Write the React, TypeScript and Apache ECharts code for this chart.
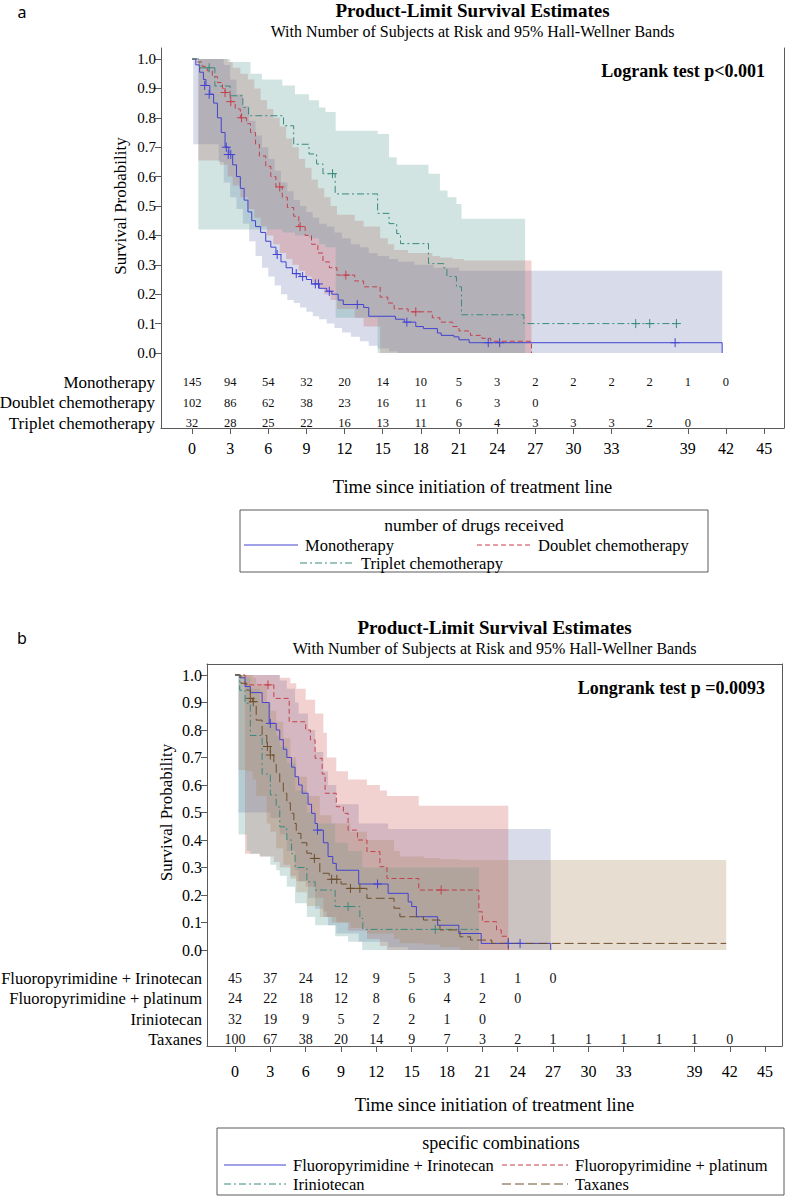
import React, { useEffect, useRef } from "react";
import * as echarts from "echarts";

// ---------------- Panel a data ----------------
const riskTimesA = [0, 3, 6, 9, 12, 15, 18, 21, 24, 27, 30, 33, 36, 39, 42];
const xTickValues = [0, 3, 6, 9, 12, 15, 18, 21, 24, 27, 30, 33, 39, 42, 45];
const yTickValues = [0, 0.1, 0.2, 0.3, 0.4, 0.5, 0.6, 0.7, 0.8, 0.9, 1.0];

const groupsA = ["Monotherapy", "Doublet chemotherapy", "Triplet chemotherapy"];
const monoRisk = [145, 94, 54, 32, 20, 14, 10, 5, 3, 2, 2, 2, 2, 1, 0];
const doubletRisk = [102, 86, 62, 38, 23, 16, 11, 6, 3, 0];
const tripletRisk = [32, 28, 25, 22, 16, 13, 11, 6, 4, 3, 3, 3, 2, 0];

const monoKM = [[0, 1], [0.3, 0.98], [0.6, 0.955], [0.9, 0.93], [1.1, 0.91], [1.4, 0.88], [1.7, 0.85], [2.0, 0.8], [2.3, 0.75], [2.6, 0.7], [2.9, 0.675], [3.2, 0.64], [3.5, 0.6], [3.8, 0.56], [4.1, 0.52], [4.4, 0.48], [4.7, 0.45], [5.0, 0.43], [5.4, 0.41], [5.8, 0.38], [6.2, 0.36], [6.6, 0.335], [7.0, 0.31], [7.4, 0.29], [7.9, 0.27], [8.5, 0.26], [9.0, 0.25], [9.4, 0.235], [10.0, 0.22], [10.6, 0.21], [11.0, 0.2], [11.5, 0.18], [11.9, 0.165], [13.5, 0.155], [13.9, 0.125], [16.0, 0.115], [16.7, 0.105], [17.6, 0.09], [18.2, 0.083], [19.3, 0.068], [19.6, 0.06], [20.6, 0.055], [21.0, 0.045], [21.8, 0.035], [41.7, 0.035], [41.7, 0]];
const monoCensor = [[1.0, 0.91], [1.35, 0.88], [2.7, 0.7], [2.85, 0.675], [3.05, 0.675], [6.7, 0.335], [8.2, 0.27], [8.7, 0.26], [9.7, 0.235], [9.95, 0.235], [10.8, 0.21], [13.0, 0.165], [16.9, 0.105], [23.3, 0.035], [24.2, 0.035], [38.0, 0.035]];
const monoBand = [[0.1, 0.71, 1.0], [2.1, 0.65, 1.0], [2.5, 0.58, 0.98], [3.0, 0.53, 0.93], [3.5, 0.49, 0.88], [4.0, 0.44, 0.84], [4.5, 0.38, 0.79], [5.0, 0.33, 0.74], [5.5, 0.29, 0.7], [6.0, 0.26, 0.66], [6.5, 0.23, 0.62], [7.0, 0.2, 0.58], [7.5, 0.18, 0.55], [8.0, 0.17, 0.52], [8.5, 0.155, 0.5], [9.0, 0.14, 0.48], [9.5, 0.125, 0.46], [10.0, 0.115, 0.44], [10.6, 0.1, 0.43], [11.2, 0.085, 0.41], [11.8, 0.07, 0.39], [12.5, 0.055, 0.37], [13.2, 0.04, 0.36], [13.9, 0.025, 0.34], [14.6, 0.015, 0.33], [15.5, 0.005, 0.32], [16.2, 0, 0.31], [17.5, 0, 0.3], [19.0, 0, 0.29], [21.0, 0, 0.28]];
const monoBandEnd = 41.7;

const doubletKM = [[0, 1], [0.4, 0.99], [0.8, 0.975], [1.2, 0.96], [1.6, 0.94], [2.0, 0.92], [2.4, 0.9], [2.6, 0.886], [3.0, 0.855], [3.4, 0.83], [3.8, 0.8], [4.3, 0.78], [4.6, 0.75], [5.0, 0.71], [5.3, 0.67], [5.8, 0.635], [6.2, 0.6], [6.6, 0.565], [7.1, 0.53], [7.5, 0.495], [8.0, 0.465], [8.4, 0.43], [8.9, 0.4], [9.4, 0.37], [9.9, 0.34], [10.3, 0.31], [10.8, 0.29], [11.4, 0.265], [12.8, 0.245], [13.5, 0.225], [14.8, 0.19], [15.4, 0.17], [15.9, 0.15], [17.0, 0.14], [18.9, 0.12], [19.5, 0.105], [20.5, 0.09], [21.0, 0.075], [21.9, 0.06], [22.8, 0.05], [23.5, 0.04], [26.7, 0]];
const doubletCensor = [[2.6, 0.886], [3.05, 0.855], [3.9, 0.8], [6.9, 0.565], [8.5, 0.43], [12.1, 0.265], [17.6, 0.14]];
const doubletBand = [[0.5, 0.655, 1.0], [2.2, 0.64, 1.0], [2.8, 0.6, 0.99], [3.2, 0.57, 0.97], [3.8, 0.53, 0.95], [4.4, 0.49, 0.93], [4.9, 0.46, 0.9], [5.4, 0.43, 0.86], [5.9, 0.4, 0.83], [6.4, 0.37, 0.8], [6.9, 0.34, 0.77], [7.4, 0.32, 0.73], [7.9, 0.3, 0.7], [8.4, 0.28, 0.66], [8.9, 0.26, 0.63], [9.4, 0.24, 0.59], [9.9, 0.22, 0.56], [10.4, 0.2, 0.53], [10.9, 0.18, 0.5], [11.4, 0.15, 0.47], [12.8, 0.12, 0.45], [13.5, 0.09, 0.43], [14.8, 0, 0.39], [15.4, 0, 0.37], [15.9, 0, 0.35], [17.0, 0, 0.34], [18.9, 0, 0.33], [19.5, 0, 0.325], [20.5, 0, 0.32], [21.4, 0, 0.315]];
const doubletBandEnd = 26.7;

const tripletKM = [[0, 1], [0.6, 0.97], [1.8, 0.908], [3.0, 0.875], [4.0, 0.835], [4.45, 0.807], [7.2, 0.773], [8.0, 0.71], [9.2, 0.677], [9.8, 0.643], [10.3, 0.61], [11.26, 0.541], [14.6, 0.475], [15.5, 0.44], [16.1, 0.406], [16.4, 0.372], [18.6, 0.304], [19.8, 0.29], [20.05, 0.26], [20.8, 0.225], [21.2, 0.13], [26.1, 0.1], [38.1, 0.1]];
const tripletCensor = [[1.35, 0.97], [11.05, 0.61], [34.9, 0.1], [36.0, 0.1], [38.1, 0.1]];
const tripletBand = [[0.5, 0.42, 1.0], [3.0, 0.42, 0.99], [4.6, 0.42, 0.95], [5.5, 0.42, 0.93], [7.1, 0.41, 0.91], [8.1, 0.4, 0.88], [9.2, 0.39, 0.86], [10.0, 0.37, 0.835], [10.5, 0.36, 0.82], [11.3, 0.12, 0.756], [14.6, 0, 0.745], [15.5, 0, 0.666], [16.1, 0, 0.64], [18.6, 0, 0.61], [19.5, 0, 0.553], [20.1, 0, 0.53], [20.8, 0, 0.507], [21.2, 0, 0.457]];
const tripletBandEnd = 26.2;

// ---------------- Panel b data ----------------
const riskTimesB = [0, 3, 6, 9, 12, 15, 18, 21, 24, 27, 30, 33, 36, 39, 42];
const groupsB = ["Fluoropyrimidine + Irinotecan", "Fluoropyrimidine + platinum", "Iriniotecan", "Taxanes"];
const fiRisk = [45, 37, 24, 12, 9, 5, 3, 1, 1, 0];
const fpRisk = [24, 22, 18, 12, 8, 6, 4, 2, 0];
const irRisk = [32, 19, 9, 5, 2, 2, 1, 0];
const taxRisk = [100, 67, 38, 20, 14, 9, 7, 3, 2, 1, 1, 1, 1, 1, 0];

const fiKM = [[0, 1], [0.4, 0.99], [0.85, 0.958], [1.3, 0.936], [2.3, 0.9], [2.9, 0.824], [3.5, 0.8], [3.8, 0.765], [4.1, 0.73], [4.4, 0.7], [4.8, 0.665], [5.1, 0.63], [5.4, 0.6], [5.7, 0.57], [6.2, 0.53], [6.5, 0.497], [6.8, 0.46], [7.0, 0.436], [7.5, 0.39], [7.9, 0.34], [8.3, 0.315], [8.6, 0.29], [10.5, 0.24], [13.0, 0.206], [14.7, 0.175], [15.0, 0.158], [15.4, 0.121], [17.2, 0.09], [19.0, 0.06], [20.9, 0.024], [26.8, 0]];
const fiCensor = [[3.0, 0.824], [7.0, 0.436], [12.1, 0.24], [23.2, 0.024], [24.2, 0.024]];
const fiBand = [[0.3, 0.5, 1.0], [2.3, 0.5, 1.0], [3.0, 0.48, 1.0], [3.8, 0.42, 0.98], [4.4, 0.36, 0.95], [5.1, 0.29, 0.9], [5.4, 0.25, 0.86], [6.2, 0.19, 0.8], [6.8, 0.15, 0.72], [7.5, 0.12, 0.65], [7.9, 0.09, 0.6], [8.6, 0.06, 0.53], [10.5, 0.03, 0.46], [13.0, 0.01, 0.44], [14.7, 0, 0.44]];
const fiBandEnd = 26.8;

const fpKM = [[0, 1], [0.85, 0.964], [3.3, 0.915], [4.6, 0.83], [6.0, 0.8], [6.4, 0.764], [6.8, 0.697], [7.4, 0.64], [7.65, 0.57], [8.6, 0.521], [9.2, 0.497], [9.6, 0.436], [10.4, 0.4], [11.2, 0.358], [12.3, 0.303], [12.9, 0.26], [15.6, 0.218], [20.7, 0.139], [21.0, 0.103], [22.2, 0.073], [22.6, 0.05], [23.2, 0]];
const fpCensor = [[2.8, 0.964], [17.5, 0.218]];
const fpBand = [[0.85, 0.35, 1.0], [2.1, 0.34, 1.0], [3.3, 0.32, 1.0], [3.8, 0.3, 0.99], [4.7, 0.27, 0.97], [5.2, 0.25, 0.95], [6.0, 0.23, 0.91], [6.8, 0.19, 0.86], [7.5, 0.14, 0.79], [7.8, 0.12, 0.7], [8.6, 0.1, 0.65], [9.6, 0.07, 0.62], [11.2, 0.04, 0.6], [12.3, 0.015, 0.58], [12.9, 0, 0.56], [15.6, 0, 0.525]];
const fpBandEnd = 23.2;

const irKM = [[0, 1], [0.4, 0.945], [0.85, 0.897], [1.3, 0.78], [2.3, 0.64], [3.0, 0.564], [3.5, 0.52], [3.8, 0.448], [4.4, 0.4], [4.8, 0.35], [5.1, 0.3], [6.1, 0.248], [6.8, 0.218], [8.5, 0.158], [10.6, 0.115], [10.85, 0.075], [20.7, 0.075]];
const irCensor = [[9.6, 0.158], [17.0, 0.075]];
const irBand = [[0.3, 0.42, 1.0], [1.0, 0.36, 0.99], [1.3, 0.35, 0.95], [2.1, 0.34, 0.9], [3.0, 0.31, 0.82], [3.5, 0.29, 0.78], [3.8, 0.27, 0.74], [4.4, 0.23, 0.68], [5.1, 0.17, 0.58], [6.1, 0.12, 0.5], [6.8, 0.09, 0.46], [8.5, 0.05, 0.39], [9.6, 0.03, 0.36], [10.8, 0, 0.3]];
const irBandEnd = 20.7;

const taxKM = [[0, 1], [0.5, 0.97], [1.0, 0.945], [1.3, 0.915], [1.5, 0.903], [1.8, 0.836], [2.3, 0.78], [2.7, 0.74], [3.0, 0.709], [3.3, 0.675], [3.5, 0.642], [3.8, 0.61], [4.1, 0.57], [4.4, 0.535], [4.7, 0.497], [5.0, 0.46], [5.2, 0.424], [5.6, 0.39], [6.1, 0.352], [6.5, 0.333], [7.2, 0.279], [8.0, 0.257], [9.0, 0.24], [9.5, 0.224], [11.2, 0.188], [13.5, 0.152], [14.0, 0.121], [16.0, 0.109], [17.4, 0.073], [19.1, 0.048], [20.0, 0.036], [21.8, 0.024], [41.7, 0.024]];
const taxCensor = [[1.3, 0.915], [1.55, 0.903], [2.75, 0.74], [3.0, 0.709], [6.74, 0.333], [8.2, 0.257], [8.64, 0.257], [9.8, 0.224], [10.6, 0.224]];
const taxBand = [[0.3, 0.655, 1.0], [1.0, 0.65, 1.0], [1.5, 0.62, 0.99], [1.8, 0.56, 0.96], [2.7, 0.46, 0.9], [3.0, 0.43, 0.87], [3.5, 0.37, 0.83], [4.1, 0.31, 0.77], [4.7, 0.26, 0.7], [5.2, 0.21, 0.63], [6.1, 0.16, 0.56], [7.2, 0.12, 0.49], [8.2, 0.1, 0.46], [9.8, 0.08, 0.43], [11.2, 0.06, 0.4], [13.5, 0.04, 0.36], [14.0, 0.025, 0.34], [16.0, 0.02, 0.335], [17.4, 0.01, 0.33], [19.1, 0, 0.327]];
const taxBandEnd = 41.7;

// ---------------- Styling ----------------
const SERIF = '"Liberation Serif", "Times New Roman", serif';
const AX = "#5a5a5a";
const COL = { blue: "#4343d0", red: "#c4404c", teal: "#3a8a7e", brown: "#6d4f2e" };
const FILL = {
  blue: "rgba(111,126,179,0.28)",
  red: "rgba(208,91,91,0.28)",
  teal: "rgba(102,165,160,0.3)",
  brown: "rgba(169,134,91,0.28)",
};
const DASH = { red: [5, 3], teal: [7, 3, 2, 3], brown: [9, 4] };

// layout (pixels)
const A = { left: 161, top: 48, right: 784, bottom: 428, x0: 192, ppm: 12.714, y1: 59, y0: 353, labelMargin: 12 };
const B = { left: 207, top: 664, right: 782, bottom: 1046, x0: 235, ppm: 11.78, y1: 675, y0: 950, labelMargin: 17 };
const rowYA = [382, 402.5, 423];
const rowYB = [978, 998.5, 1019, 1039.5];

function axisRange(L: typeof A) {
  const uy = L.y0 - L.y1;
  return {
    xMin: (L.left - L.x0) / L.ppm,
    xMax: (L.right - L.x0) / L.ppm,
    yMin: -(L.bottom - L.y0) / uy,
    yMax: 1 + (L.y1 - L.top) / uy,
    rowVal: (py: number) => (L.y0 - py) / uy,
  };
}

function bandSeries(xi: number, yi: number, steps: number[][], end: number, color: string) {
  return {
    type: "custom",
    xAxisIndex: xi,
    yAxisIndex: yi,
    data: [[0, 0]],
    silent: true,
    z: 1,
    renderItem: (_p: any, api: any) => {
      const pts: number[][] = [];
      for (let i = 0; i < steps.length; i++) {
        const t1 = i + 1 < steps.length ? steps[i + 1][0] : end;
        pts.push(api.coord([steps[i][0], steps[i][2]]));
        pts.push(api.coord([t1, steps[i][2]]));
      }
      for (let i = steps.length - 1; i >= 0; i--) {
        const t1 = i + 1 < steps.length ? steps[i + 1][0] : end;
        pts.push(api.coord([t1, steps[i][1]]));
        pts.push(api.coord([steps[i][0], steps[i][1]]));
      }
      return { type: "polygon", shape: { points: pts }, style: { fill: color, stroke: "none" } };
    },
  };
}

function kmSeries(xi: number, yi: number, data: number[][], color: string, dash: any) {
  return {
    type: "line",
    xAxisIndex: xi,
    yAxisIndex: yi,
    data,
    step: "end",
    symbol: "none",
    silent: true,
    z: 3,
    lineStyle: { color, width: 1, type: dash },
  };
}

function censorSeries(xi: number, yi: number, data: number[][], color: string) {
  return {
    type: "custom",
    xAxisIndex: xi,
    yAxisIndex: yi,
    data,
    silent: true,
    z: 4,
    renderItem: (_p: any, api: any) => {
      const c = api.coord([api.value(0), api.value(1)]);
      const h = 4.5;
      return {
        type: "group",
        children: [
          { type: "line", shape: { x1: c[0] - h, y1: c[1], x2: c[0] + h, y2: c[1] }, style: { stroke: color, lineWidth: 1 } },
          { type: "line", shape: { x1: c[0], y1: c[1] - h, x2: c[0], y2: c[1] + h }, style: { stroke: color, lineWidth: 1 } },
        ],
      };
    },
  };
}

function riskSeries(xi: number, yi: number, times: number[], counts: number[], rowVal: number, fontSize: number) {
  return {
    type: "custom",
    xAxisIndex: xi,
    yAxisIndex: yi,
    data: counts.map((c, i) => [times[i], rowVal, c]),
    silent: true,
    z: 5,
    renderItem: (_p: any, api: any) => {
      const c = api.coord([api.value(0), api.value(1)]);
      return {
        type: "text",
        x: c[0],
        y: c[1],
        style: {
          text: String(api.value(2)),
          fill: "#111",
          fontSize,
          fontFamily: SERIF,
          align: "center",
          verticalAlign: "middle",
        },
      };
    },
  };
}

function text(x: number, y: number, s: string, size: number, opts: any = {}) {
  return {
    type: "text",
    x,
    y,
    rotation: opts.rotation || 0,
    silent: true,
    style: {
      text: s,
      fill: "#000",
      fontSize: size,
      fontFamily: opts.family || SERIF,
      fontWeight: opts.bold ? "bold" : "normal",
      align: opts.align || "left",
      verticalAlign: "middle",
      textAlign: opts.align || "left",
      textVerticalAlign: "middle",
    },
  };
}

function legendLine(x1: number, x2: number, y: number, color: string, dash: any) {
  return {
    type: "line",
    silent: true,
    shape: { x1, y1: y, x2, y2: y },
    style: { stroke: color, lineWidth: 1, lineDash: Array.isArray(dash) ? dash : null },
  };
}

function buildOption() {
  const ra = axisRange(A);
  const rb = axisRange(B);
  const xAxisBase = (grid: number, r: any, fs: number, margin: number) => ({
    gridIndex: grid,
    type: "value",
    min: r.xMin,
    max: r.xMax,
    position: "bottom",
    axisLine: { show: true, onZero: false, lineStyle: { color: AX, width: 1 } },
    axisTick: { show: true, customValues: xTickValues, length: 6, lineStyle: { color: AX } },
    axisLabel: { show: true, customValues: xTickValues, formatter: (v: number) => String(v), fontSize: fs, fontFamily: SERIF, color: "#000", margin },
    splitLine: { show: false },
  });
  const yAxisBase = (grid: number, r: any, fs: number) => ({
    gridIndex: grid,
    type: "value",
    min: r.yMin,
    max: r.yMax,
    position: "left",
    axisLine: { show: true, onZero: false, lineStyle: { color: AX, width: 1 } },
    axisTick: { show: true, customValues: yTickValues, length: 6, lineStyle: { color: AX } },
    axisLabel: { show: true, customValues: yTickValues, formatter: (v: number) => v.toFixed(1), fontSize: fs, fontFamily: SERIF, color: "#000", margin: 5 },
    splitLine: { show: false },
  });
  const borderAxis = (grid: number, r: any, pos: string, isX: boolean) => ({
    gridIndex: grid,
    type: "value",
    min: isX ? r.xMin : r.yMin,
    max: isX ? r.xMax : r.yMax,
    position: pos,
    axisLine: { show: true, onZero: false, lineStyle: { color: AX, width: 1 } },
    axisTick: { show: false },
    axisLabel: { show: false },
    splitLine: { show: false },
  });

  const series: any[] = [
    // panel a
    bandSeries(0, 0, monoBand, monoBandEnd, FILL.blue),
    bandSeries(0, 0, doubletBand, doubletBandEnd, FILL.red),
    bandSeries(0, 0, tripletBand, tripletBandEnd, FILL.teal),
    kmSeries(0, 0, monoKM, COL.blue, "solid"),
    kmSeries(0, 0, doubletKM, COL.red, DASH.red),
    kmSeries(0, 0, tripletKM, COL.teal, DASH.teal),
    censorSeries(0, 0, monoCensor, COL.blue),
    censorSeries(0, 0, doubletCensor, COL.red),
    censorSeries(0, 0, tripletCensor, COL.teal),
    riskSeries(0, 0, riskTimesA, monoRisk, ra.rowVal(rowYA[0]), 12.5),
    riskSeries(0, 0, riskTimesA, doubletRisk, ra.rowVal(rowYA[1]), 12.5),
    riskSeries(0, 0, riskTimesA, tripletRisk, ra.rowVal(rowYA[2]), 12.5),
    // panel b
    bandSeries(1, 2, fiBand, fiBandEnd, FILL.blue),
    bandSeries(1, 2, fpBand, fpBandEnd, FILL.red),
    bandSeries(1, 2, irBand, irBandEnd, FILL.teal),
    bandSeries(1, 2, taxBand, taxBandEnd, FILL.brown),
    kmSeries(1, 2, fiKM, COL.blue, "solid"),
    kmSeries(1, 2, fpKM, COL.red, DASH.red),
    kmSeries(1, 2, irKM, COL.teal, DASH.teal),
    kmSeries(1, 2, taxKM, COL.brown, DASH.brown),
    censorSeries(1, 2, fiCensor, COL.blue),
    censorSeries(1, 2, fpCensor, COL.red),
    censorSeries(1, 2, irCensor, COL.teal),
    censorSeries(1, 2, taxCensor, COL.brown),
    riskSeries(1, 2, riskTimesB, fiRisk, rb.rowVal(rowYB[0]), 14),
    riskSeries(1, 2, riskTimesB, fpRisk, rb.rowVal(rowYB[1]), 14),
    riskSeries(1, 2, riskTimesB, irRisk, rb.rowVal(rowYB[2]), 14),
    riskSeries(1, 2, riskTimesB, taxRisk, rb.rowVal(rowYB[3]), 14),
  ];

  const cxA = (A.left + A.right) / 2;
  const cxB = (B.left + B.right) / 2;

  const graphics: any[] = [
    text(22, 12, "a", 16, { family: '"Noto Sans", sans-serif', align: "center" }),
    text(cxA, 10, "Product-Limit Survival Estimates", 19, { bold: true, align: "center" }),
    text(cxA, 31, "With Number of Subjects at Risk and 95% Hall-Wellner Bands", 16, { align: "center" }),
    text(765, 71, "Logrank test p<0.001", 18, { bold: true, align: "right" }),
    text(120, (A.y0 + A.y1) / 2, "Survival Probability", 17, { align: "center", rotation: Math.PI / 2 }),
    text(cxA, 487, "Time since initiation of treatment line", 18.5, { align: "center" }),
    ...groupsA.map((g, i) => text(155, rowYA[i], g, 17, { align: "right" })),
    // legend a
    { type: "rect", silent: true, shape: { x: 240, y: 510, width: 468, height: 62 }, style: { fill: "none", stroke: AX, lineWidth: 1 } },
    text(474, 525, "number of drugs received", 17.5, { align: "center" }),
    legendLine(244, 298, 545, COL.blue, "solid"),
    text(305, 545, groupsA[0], 16.5),
    legendLine(477, 531, 545, COL.red, DASH.red),
    text(538, 545, groupsA[1], 16.5),
    legendLine(300, 354, 563, COL.teal, DASH.teal),
    text(361, 563, groupsA[2], 16.5),

    text(22, 638, "b", 16, { family: '"Noto Sans", sans-serif', align: "center" }),
    text(cxB, 627, "Product-Limit Survival Estimates", 19, { bold: true, align: "center" }),
    text(cxB, 648, "With Number of Subjects at Risk and 95% Hall-Wellner Bands", 16, { align: "center" }),
    text(765, 688, "Longrank test p =0.0093", 18, { bold: true, align: "right" }),
    text(166, (B.y0 + B.y1) / 2, "Survival Probability", 17, { align: "center", rotation: Math.PI / 2 }),
    text(cxB, 1105, "Time since initiation of treatment line", 18.5, { align: "center" }),
    ...groupsB.map((g, i) => text(202, rowYB[i], g, 16.5, { align: "right" })),
    // legend b
    { type: "rect", silent: true, shape: { x: 217, y: 1128, width: 567, height: 67 }, style: { fill: "none", stroke: AX, lineWidth: 1 } },
    text(501, 1143, "specific combinations", 18, { align: "center" }),
    legendLine(224, 286, 1165, COL.blue, "solid"),
    text(293, 1165, groupsB[0], 16.5),
    legendLine(502, 568, 1165, COL.red, DASH.red),
    text(575, 1165, groupsB[1], 16.5),
    legendLine(224, 286, 1184, COL.teal, DASH.teal),
    text(293, 1184, groupsB[2], 16.5),
    legendLine(502, 568, 1184, COL.brown, DASH.brown),
    text(575, 1184, groupsB[3], 16.5),
  ];

  return {
    animation: false,
    backgroundColor: "#fff",
    grid: [
      { left: A.left, top: A.top, width: A.right - A.left, height: A.bottom - A.top },
      { left: B.left, top: B.top, width: B.right - B.left, height: B.bottom - B.top },
    ],
    xAxis: [xAxisBase(0, ra, 16, A.labelMargin), xAxisBase(1, rb, 16, B.labelMargin), borderAxis(1, rb, "top", true)],
    yAxis: [yAxisBase(0, ra, 15), borderAxis(0, ra, "right", false), yAxisBase(1, rb, 16), borderAxis(1, rb, "right", false)],
    series,
    graphic: { elements: graphics },
  };
}

export default function App() {
  const ref = useRef<HTMLDivElement>(null);
  useEffect(() => {
    if (!ref.current) return;
    const chart = echarts.init(ref.current, null, { renderer: "svg" });
    chart.setOption(buildOption() as any);
    return () => chart.dispose();
  }, []);
  return <div ref={ref} style={{ position: "absolute", left: 0, top: 0, width: 787, height: 1197, background: "#fff" }} />;
}
